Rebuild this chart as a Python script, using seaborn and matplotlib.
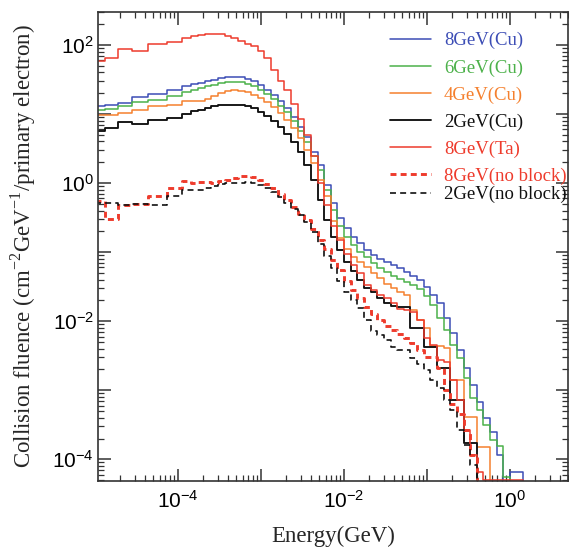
import numpy as np
import pandas as pd
import matplotlib
matplotlib.use("Agg")
import matplotlib.pyplot as plt
from matplotlib.ticker import FixedLocator, LogLocator, FuncFormatter, NullFormatter
import seaborn as sns

# Energy bin edges, log10(E / GeV)
log_edges = [-5.00, -4.88, -4.72, -4.56, -4.36, -4.14, -3.95,
             -3.84, -3.76, -3.68, -3.60, -3.52, -3.44, -3.36, -3.28, -3.20, -3.12,
             -3.04, -2.96, -2.88, -2.80, -2.72, -2.64, -2.56, -2.48, -2.40, -2.32,
             -2.24, -2.16, -2.08, -2.00, -1.92, -1.84, -1.76, -1.68, -1.60, -1.52,
             -1.44, -1.36, -1.28, -1.20, -1.12, -1.04, -0.96, -0.88, -0.80, -0.72,
             -0.64, -0.56, -0.48, -0.40, -0.32, -0.24, -0.16, -0.08, 0.00, 0.08,
             0.16, 0.24, 0.32, 0.40]

series_labels = ["8GeV(Cu)", "6GeV(Cu)", "4GeV(Cu)", "2GeV(Cu)",
                 "8GeV(Ta)", "8GeV(no block)", "2GeV(no block)"]

# Collision fluence per bin (cm^-2 GeV^-1 per primary electron); 0 = empty bin
flu_8gev_cu = [13.2, 13.6, 14.4, 17.4, 19.7, 22.5, 25.1,
               27.5, 28.1, 30.4, 31.4, 33.3, 34.1, 34.4, 34.4, 32.5, 29.6,
               26.6, 22.5, 19.1, 15.2, 12.2, 9.14, 6.55, 4.68, 2.84, 1.84,
               0.944, 0.518, 0.314, 0.225, 0.167, 0.136, 0.108, 0.0914, 0.080, 0.0723,
               0.0655, 0.0592, 0.0518, 0.0454, 0.0397, 0.0314, 0.0240, 0.0184, 0.0112, 0.00676,
               0.00384, 0.00210, 0.00119, 0.000676, 0.000398, 0.000251, 0.000115, 0, 6.6e-5, 6.6e-5,
               0, 0, 0]
flu_6gev_cu = [11.5, 11.9, 12.9, 14.9, 16.1, 18.4, 20.8,
               22.5, 23.8, 25.1, 26.6, 28.1, 28.7, 28.7, 28.7, 27.5, 25.1,
               22.5, 19.4, 16.4, 13.2, 10.8, 8.0, 5.73, 3.97, 2.49, 1.56,
               0.80, 0.41, 0.240, 0.167, 0.128, 0.101, 0.0855, 0.070, 0.0592, 0.0518,
               0.0454, 0.0410, 0.0372, 0.0336, 0.0294, 0.0233, 0.0172, 0.0112, 0.00748, 0.00454,
               0.00294, 0.00151, 0.000773, 0.000518, 0.000314, 0.000191, 0.000156, 5.6e-5, 0, 0,
               0, 0, 0]
flu_4gev_cu = [9.55, 9.77, 10.5, 11.3, 12.9, 13.6, 15.2,
               15.6, 15.6, 16.7, 18.5, 20.2, 21.5, 22.1, 21.8, 20.7, 19.1,
               17.2, 15.1, 12.8, 10.4, 8.26, 6.32, 4.54, 3.04, 1.97, 1.12,
               0.655, 0.284, 0.161, 0.112, 0.0855, 0.0723, 0.0612, 0.0501, 0.0425, 0.0348,
               0.0304, 0.0266, 0.0240, 0.0146, 0.0105, 0.0080, 0.0043, 0.0043, 0.0041, 0.00141,
               0.00141, 0.000414, 0.000414, 0.000152, 0.000152, 0, 0, 0, 0, 0,
               0, 0, 0]
flu_2gev_cu = [5.60, 6.27, 7.57, 7.16, 8.26, 8.75, 10.1,
               10.9, 11.5, 12.2, 12.9, 13.6, 13.6, 13.6, 13.6, 13.2, 12.1,
               10.8, 9.44, 8.0, 6.55, 5.18, 3.97, 2.82, 1.84, 1.12, 0.573,
               0.294, 0.167, 0.108, 0.0723, 0.0536, 0.0397, 0.0304, 0.0266, 0.0218, 0.0184,
               0.0167, 0.0161, 0.0161, 0.0080, 0.0080, 0.00425, 0.00425, 0.00210, 0.00210, 0.000724,
               0.000724, 0.000172, 0.000172, 0, 0, 0, 0, 0, 0, 0,
               0, 0, 0]
flu_8gev_ta = [57.8, 64.7, 87.5, 80.7, 103, 110, 126,
               133, 141, 144, 146, 143, 136, 126, 114, 104, 97.7,
               82.6, 65.5, 43.9, 30.4, 22.1, 14.1, 8.51, 5.01, 2.45, 1.0,
               0.484, 0.240, 0.151, 0.0944, 0.0655, 0.0501, 0.0336, 0.0284, 0.0240, 0.0218,
               0.0184, 0.0151, 0.0146, 0.0136, 0.0104, 0.00573, 0.00454, 0.00275, 0.00257, 0.00141,
               0.000724, 0.000266, 0.000115, 6.5e-5, 5.0e-5, 5.0e-5, 5.0e-5, 5.0e-5, 5.0e-5, 5.0e-5,
               0, 0, 0]
flu_8gev_open = [0.541, 0.301, 0.485, 0.501, 0.640, 0.847, 1.08,
                 1.0, 1.03, 1.03, 1.0, 1.08, 1.12, 1.19, 1.26, 1.28, 1.21,
                 1.12, 0.977, 0.855, 0.700, 0.573, 0.454, 0.359, 0.29, 0.215, 0.15,
                 0.112, 0.0773, 0.0556, 0.0384, 0.0284, 0.0218, 0.0161, 0.0128, 0.0104, 0.00855,
                 0.00748, 0.00655, 0.00573, 0.00485, 0.00384, 0.00304, 0.00304, 0.00210, 0.00101, 0.000632,
                 0.000454, 0.000266, 0.000115, 0, 0, 0, 0, 0, 0, 0,
                 0, 0, 0]
flu_2gev_open = [0.518, 0.518, 0.485, 0.501, 0.485, 0.640, 0.80,
                 0.80, 0.80, 0.855, 0.914, 0.977, 0.993, 1.01, 1.01, 1.02, 1.01,
                 0.944, 0.855, 0.748, 0.632, 0.518, 0.424, 0.348, 0.275, 0.197, 0.13,
                 0.088, 0.0592, 0.0384, 0.0266, 0.0204, 0.0156, 0.0104, 0.00724, 0.00634, 0.00536,
                 0.00425, 0.00384, 0.00384, 0.00294, 0.00240, 0.00197, 0.00141, 0.00108, 0.000724, 0.000519,
                 0.000266, 0.000161, 8.3e-5, 0, 0, 0, 0, 0, 0, 0,
                 0, 0, 0]

series_values = [flu_8gev_cu, flu_6gev_cu, flu_4gev_cu, flu_2gev_cu,
                 flu_8gev_ta, flu_8gev_open, flu_2gev_open]

# Decade ticks shown on each axis
x_decades = [-4, -3, -2, -1, 0]
y_decades = [-4, -3, -2, -1, 0, 1, 2]

colors = ["#3c4db5", "#4cb14a", "#f5802e", "#111111", "#ee3b2c", "#ee3b2c", "#111111"]
widths = [1.1, 1.1, 1.1, 1.35, 1.1, 2.1, 1.2]
dashed = [False, False, False, False, False, True, True]

sns.set_theme(style="ticks")
plt.rcParams.update({
    "font.family": ["Liberation Serif", "DejaVu Serif"],
    "mathtext.fontset": "custom",
    "mathtext.rm": "Liberation Sans",
    "mathtext.it": "Liberation Sans:italic",
    "mathtext.bf": "Liberation Sans:bold",
    "mathtext.sf": "Liberation Serif",
    "axes.edgecolor": "#333333",
    "axes.linewidth": 1.2,
    "lines.scale_dashes": False,
})

# Long table of step outlines: each bin edge paired with the value of the bin it opens
energy_edges = 10.0 ** np.array(log_edges)
frames = []
for label, vals in zip(series_labels, series_values):
    v = np.asarray(vals, dtype=float)
    v = np.where(v > 0, v, 1e-9)  # empty bins fall to below the axis floor
    frames.append(pd.DataFrame({"energy": energy_edges,
                                "fluence": np.append(v, v[-1]),
                                "spectrum": label}))
df = pd.concat(frames, ignore_index=True)

fig = plt.figure(figsize=(5.69, 5.51), dpi=100)
ax = fig.add_axes([98 / 569, 70 / 551, 470 / 569, 469 / 551])

handles = []
for label, col, lw, dsh in zip(series_labels, colors, widths, dashed):
    sub = df[df["spectrum"] == label]
    sns.lineplot(data=sub, x="energy", y="fluence", ax=ax, color=col, linewidth=lw,
                 linestyle=(0, (4.3, 3.0)) if dsh else "-",
                 drawstyle="steps-post", estimator=None, sort=False, legend=False)
    handles.append(ax.get_lines()[-1])

ax.set_xscale("log")
ax.set_yscale("log")
ax.set_xlim(1.08e-5, 5.0)
ax.set_ylim(4.85e-5, 300)


def even_decades(v, pos):
    e = int(round(np.log10(v)))
    return rf"$10^{{{e}}}$" if e % 2 == 0 else ""


for axis, decades in ((ax.xaxis, x_decades), (ax.yaxis, y_decades)):
    axis.set_major_locator(FixedLocator([10.0 ** d for d in decades]))
    axis.set_major_formatter(FuncFormatter(even_decades))
    axis.set_minor_locator(LogLocator(base=10, subs=np.arange(2, 10), numticks=30))
    axis.set_minor_formatter(NullFormatter())

ax.tick_params(which="both", direction="in", top=True, right=True, color="#333333")
ax.tick_params(which="major", length=9, width=1.1, labelsize=15, labelcolor="black")
ax.tick_params(which="minor", length=4, width=0.9)
ax.tick_params(axis="x", which="major", pad=7)
ax.tick_params(axis="y", which="major", pad=3)

ax.set_xlabel("Energy(GeV)", fontsize=16.5, family="Liberation Serif")
ax.set_ylabel(r"Collision fluence (cm$^{\mathsf{-2}}$GeV$^{\mathsf{-1}}$/primary electron)",
              fontsize=16.5, family="Liberation Serif")
ax.xaxis.set_label_coords(0.5, -0.095)
ax.yaxis.set_label_coords(-0.128, 0.5)

# Legend: the six upper entries, then the last entry tucked closer underneath
leg_kw = dict(loc="upper left", frameon=False, borderpad=0, borderaxespad=0,
              handlelength=2.15, handletextpad=0.7, labelspacing=0.52,
              prop={"family": "Liberation Serif", "size": 13.5})
leg_main = ax.legend(handles=handles[:6], labels=series_labels[:6],
                     bbox_to_anchor=(0.622, 0.957), **leg_kw)
for txt, col in zip(leg_main.get_texts(), colors[:6]):
    txt.set_color(col)
ax.add_artist(leg_main)
leg_last = ax.legend(handles=handles[6:], labels=series_labels[6:],
                     bbox_to_anchor=(0.622, 0.629), **leg_kw)
for txt, col in zip(leg_last.get_texts(), colors[6:]):
    txt.set_color(col)

fig.savefig("out.png", dpi=100, facecolor="white")
